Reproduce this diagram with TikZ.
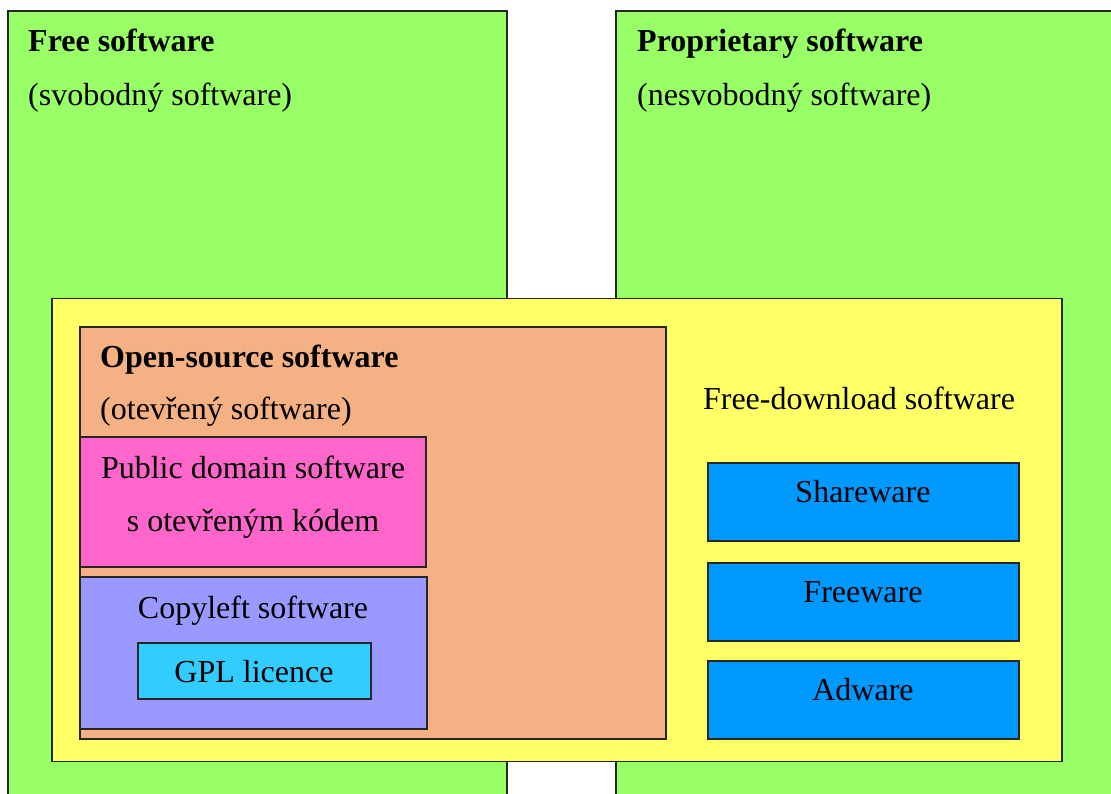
\documentclass[tikz,border=0pt]{standalone}
\usepackage{fontspec}
\setmainfont{Liberation Serif}
\definecolor{cgreen}{HTML}{99FF66}
\definecolor{cyellow}{HTML}{FFFF66}
\definecolor{cbrown}{HTML}{F4B183}
\definecolor{cpink}{HTML}{FF66CC}
\definecolor{clav}{HTML}{9999FF}
\definecolor{ccyan}{HTML}{33CCFF}
\definecolor{cblue}{HTML}{0099FF}
\definecolor{cedge}{HTML}{262626}
\tikzset{
  box/.style={draw=cedge, line width=1.3pt, rectangle, inner sep=0pt, outer sep=0pt, anchor=north west},
  lbl/.style={inner sep=0pt, font=\fontsize{32}{38}\selectfont},
}
\begin{document}
\begin{tikzpicture}[x=1pt,y=-1pt]
\useasboundingbox (0,0) rectangle (1111,793);
\clip (0,0) rectangle (1111,793);
% green outer boxes
\node[box, fill=cgreen, minimum width=499pt, minimum height=820pt] (free) at (8,11) {};
\node[box, fill=cgreen, minimum width=520pt, minimum height=820pt] (prop) at (616,11) {};
% yellow
\node[box, fill=cyellow, minimum width=1010pt, minimum height=463pt] (fd) at (52,298.5) {};
% brown
\node[box, fill=cbrown, minimum width=586pt, minimum height=412pt] (os) at (80,327) {};
% pink
\node[box, fill=cpink, minimum width=346pt, minimum height=130pt] (pd) at (80,437) {};
% lavender
\node[box, fill=clav, minimum width=347pt, minimum height=152pt] (cl) at (80,577) {};
% GPL
\node[box, fill=ccyan, minimum width=233pt, minimum height=56pt] (gpl) at (138,643) {};
% blue
\node[box, fill=cblue, minimum width=311pt, minimum height=78pt] (sh) at (708,463) {};
\node[box, fill=cblue, minimum width=311pt, minimum height=78pt] (fw) at (708,563) {};
\node[box, fill=cblue, minimum width=311pt, minimum height=78pt] (aw) at (708,661) {};
% texts
\node[lbl, anchor=base west, font=\fontsize{32}{38}\selectfont\bfseries] (t1) at (28,51) {Free software};
\node[lbl, anchor=base west] (t2) at (28,105) {(svobodný software)};
\node[lbl, anchor=base west, font=\fontsize{32}{38}\selectfont\bfseries] (t3) at (637,51) {Proprietary software};
\node[lbl, anchor=base west] (t4) at (637,105) {(nesvobodný software)};
\node[lbl, anchor=base west, font=\fontsize{32}{38}\selectfont\bfseries] (t5) at (100,367) {Open-source software};
\node[lbl, anchor=base west] (t6) at (100,419) {(otevřený software)};
\node[lbl, anchor=base] (t7) at (859,409) {Free-download software};
\node[lbl, anchor=base] (t8) at (253,478) {Public domain software};
\node[lbl, anchor=base] (t9) at (253,531) {s otevřeným kódem};
\node[lbl, anchor=base] (t10) at (253,618) {Copyleft software};
\node[lbl, anchor=base] (t11) at (254,682) {GPL licence};
\node[lbl, anchor=base] (t12) at (863,502) {Shareware};
\node[lbl, anchor=base] (t13) at (863,602) {Freeware};
\node[lbl, anchor=base] (t14) at (863,700) {Adware};
\end{tikzpicture}
\end{document}
